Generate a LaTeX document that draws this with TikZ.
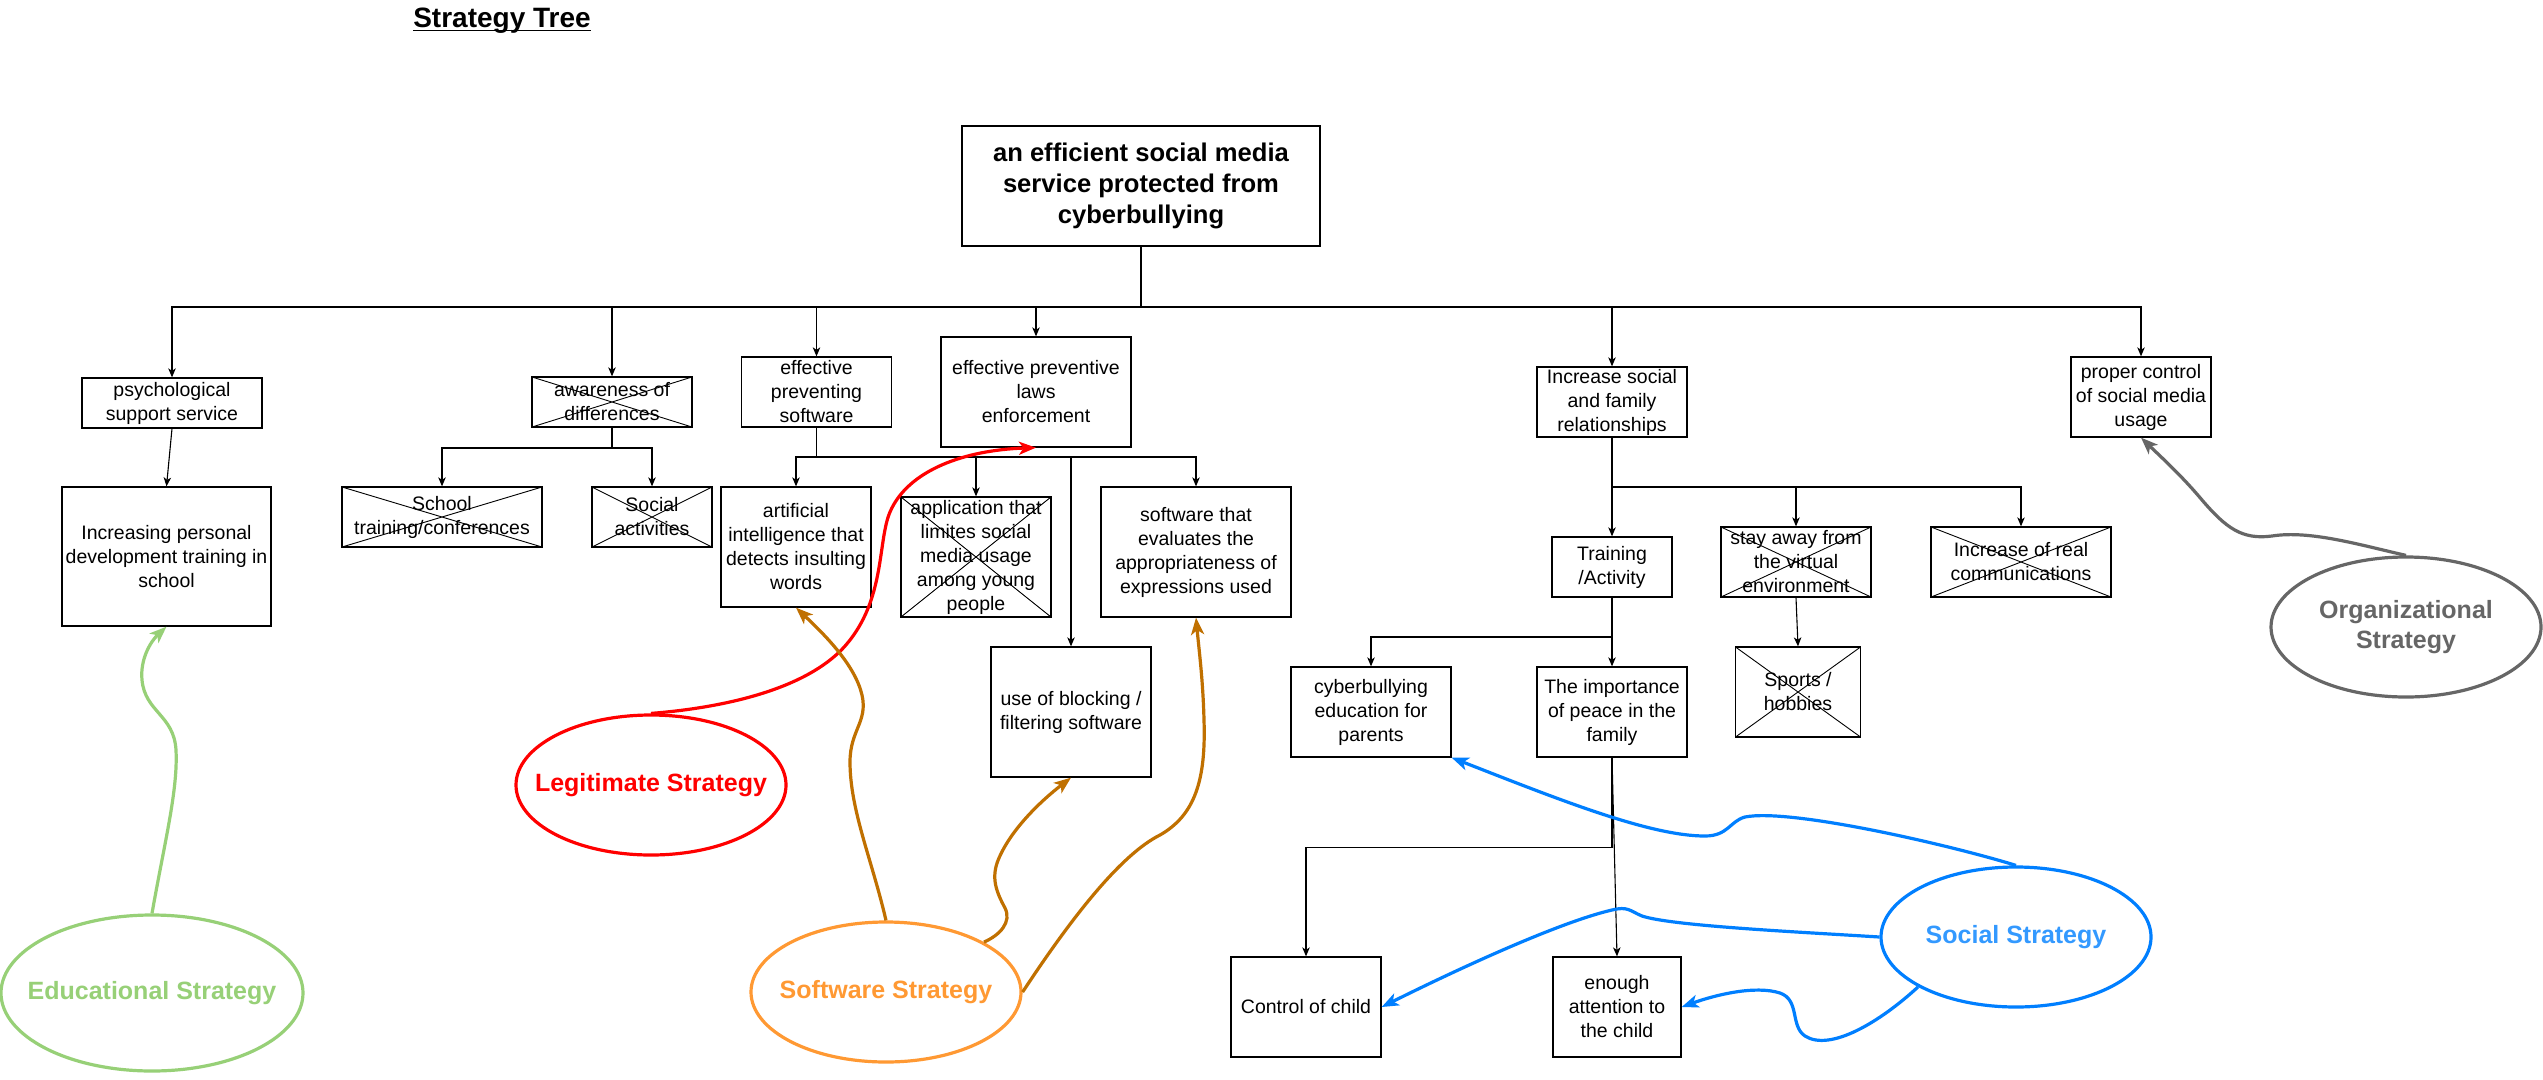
\documentclass[tikz,border=0pt]{standalone}
\usepackage{fontspec}
\setmainfont{Liberation Sans}
\usetikzlibrary{arrows.meta,shapes.geometric}
\definecolor{edug}{HTML}{97D077}
\definecolor{legr}{HTML}{FF0000}
\definecolor{softo}{HTML}{FF9933}
\definecolor{softa}{HTML}{C07000}
\definecolor{socb}{HTML}{007FFF}
\definecolor{soct}{HTML}{3399FF}
\definecolor{orgg}{HTML}{666666}
\begin{document}
\begin{tikzpicture}[x=1pt,y=-1pt,
  box/.style={draw, line width=1.3pt, align=center, inner sep=0pt, font=\fontsize{19.5}{24}\selectfont},
  sz/.style 2 args={minimum width=#1pt, minimum height=#2pt},
  xbox/.style={box, path picture={\draw[line width=0.9pt] (path picture bounding box.north west) -- (path picture bounding box.south east) (path picture bounding box.north east) -- (path picture bounding box.south west);}},
  tline/.style={line width=1.1pt},
  tarr/.style={tline, -{Stealth[length=9pt,width=7.5pt,inset=2.5pt]}},
  strat/.style={ellipse, line width=3.2pt, inner sep=0pt, minimum width=270pt, minimum height=140pt},
  stext/.style={font=\bfseries\fontsize{25}{30.7}\selectfont, align=center, inner sep=0pt},
  sarr/.style={line width=3.2pt, -{Stealth[length=17pt,width=13pt,inset=4.5pt]}}
]
\path[use as bounding box, fill=white] (0,0) rectangle (2543,1079);

% title
\node[font=\bfseries\fontsize{28}{34}\selectfont, anchor=base, inner sep=0pt] (title) at (502,27) {Strategy Tree};
\draw[line width=1.8pt] ([yshift=-3.5pt]title.base west) -- ([yshift=-3.5pt]title.base east);

% boxes
\node[box, sz={358}{120}, font=\bfseries\fontsize{25.6}{30.7}\selectfont] (root) at (1141,186) {an efficient social media\\service protected from\\cyberbullying};
\node[box, sz={180}{50}] (psych) at (172,403) {psychological\\support service};
\node[box, sz={209}{139}] (incp) at (166.5,556.5) {Increasing personal\\development training in\\school};
\node[xbox, sz={160}{50}] (aware) at (612,402) {awareness of\\differences};
\node[xbox, sz={200}{60}] (school) at (442,517) {School\\training/conferences};
\node[xbox, sz={120}{60}] (socact) at (652,517) {Social\\activities};
\node[box, sz={150}{70}] (eps) at (816.5,392) {effective\\preventing\\software};
\node[box, sz={190}{110}] (laws) at (1036,392) {effective preventive\\laws\\enforcement};
\node[box, sz={150}{120}] (ai) at (796,547) {artificial\\intelligence that\\detects insulting\\words};
\node[xbox, sz={150}{120}] (app) at (976,557) {application that\\limites social\\media usage\\among young\\people};
\node[box, sz={190}{130}] (evalu) at (1196,552) {software that\\evaluates the\\appropriateness of\\expressions used};
\node[box, sz={160}{130}] (block) at (1071,712) {use of blocking /\\filtering software};
\node[box, sz={150}{70}] (incsoc) at (1612,402) {Increase social\\and family\\relationships};
\node[box, sz={140}{80}] (proper) at (2141,397) {proper control\\of social media\\usage};
\node[box, sz={120}{60}] (train) at (1612,567) {Training\\/Activity};
\node[xbox, sz={150}{70}] (stay) at (1796,562) {stay away from\\the virtual\\environment};
\node[xbox, sz={180}{70}] (increal) at (2021,562) {Increase of real\\communications};
\node[xbox, sz={125}{90}] (sports) at (1798,692) {Sports /\\hobbies};
\node[box, sz={160}{90}] (cyber) at (1371,712) {cyberbullying\\education for\\parents};
\node[box, sz={150}{90}] (import) at (1612,712) {The importance\\of peace in the\\family};
\node[box, sz={150}{100}] (control) at (1306,1007) {Control of child};
\node[box, sz={128}{100}] (enough) at (1617,1007) {enough\\attention to\\the child};

% strategy ellipses
\node[strat, draw=edug, minimum width=302pt, minimum height=156pt] (edu) at (152,993) {};
\node[stext, text=edug] (edut) at (edu.center) {Educational Strategy};
\node[strat, draw=legr] (legit) at (651,785) {};
\node[stext, text=legr] (legitt) at (legit.center) {Legitimate Strategy};
\node[strat, draw=softo] (soft) at (886,992) {};
\node[stext, text=softo] (softt) at (soft.center) {Software Strategy};
\node[strat, draw=socb] (social) at (2016,937) {};
\node[stext, text=soct] (socialt) at (social.center) {Social Strategy};
\node[strat, draw=orgg] (org) at (2406,627) {};
\node[stext, text=orgg] (orgt) at (org.center) {Organizational\\Strategy};

% tree connectors
\coordinate (b0) at (1141,307);
\draw[tline] (root.south) -- (b0);
\foreach \n in {psych,aware,eps,laws,incsoc,proper} \draw[tarr] (b0) -| (\n.north);
\coordinate (b1) at (612,448);
\draw[tline] (aware.south) -- (b1);
\foreach \n in {school,socact} \draw[tarr] (b1) -| (\n.north);
\coordinate (b2) at (816.5,457);
\draw[tline] (eps.south) -- (b2);
\foreach \n in {ai,app,block,evalu} \draw[tarr] (b2) -| (\n.north);
\coordinate (b3) at (1612,487);
\draw[tline] (incsoc.south) -- (b3);
\foreach \n in {train,stay,increal} \draw[tarr] (b3) -| (\n.north);
\coordinate (b4) at (1612,637);
\draw[tline] (train.south) -- (b4);
\foreach \n in {cyber,import} \draw[tarr] (b4) -| (\n.north);
\draw[tarr] (import.south) -- ++(0,90) -| (control.north);
\draw[tarr] (import.south) -- (enough.north);
\draw[tarr] (psych.south) -- (incp.north);
\draw[tarr] (stay.south) -- (sports.north);

% strategy arrows
\draw[sarr, edug] (edu.north) .. controls (165,840) and (178,790) .. (176,750) .. controls (174,715) and (145,712) .. (142,680) .. controls (140,660) and (150,642) .. (incp.south);
\draw[sarr, legr] (legit.north) .. controls (720,708) and (812,690) .. (850,640) .. controls (885,595) and (878,540) .. (890,512) .. controls (908,470) and (965,450) .. (laws.south);
\draw[sarr, softa] (soft.north) .. controls (872,860) and (850,810) .. (850,762) .. controls (850,730) and (868,722) .. (862,695) .. controls (855,665) and (825,635) .. (ai.south);
\draw[sarr, softa] (soft.27) .. controls (1000,935) and (1012,922) .. (1005,908) .. controls (997,893) and (990,878) .. (999,858) .. controls (1012,828) and (1042,800) .. (block.south);
\draw[sarr, softa] (soft.east) .. controls (1070,920) and (1120,855) .. (1160,835) .. controls (1195,815) and (1206,780) .. (1204,720) .. controls (1203,680) and (1199,650) .. (evalu.south);
\draw[sarr, socb] (social.north) .. controls (1950,845) and (1790,808) .. (1745,817) .. controls (1730,821) and (1728,836) .. (1705,836) .. controls (1650,836) and (1560,800) .. (cyber.south east);
\draw[sarr, socb] (social.west) .. controls (1800,932) and (1672,926) .. (1642,916) .. controls (1630,911) and (1628,906) .. (1612,910) .. controls (1560,922) and (1460,968) .. (control.east);
\draw[sarr, socb] (social.207) .. controls (1880,1022) and (1830,1052) .. (1805,1036) .. controls (1790,1026) and (1800,1000) .. (1780,993) .. controls (1755,985) and (1715,995) .. (enough.east);
\draw[sarr, orgg] (org.north) .. controls (2360,545) and (2310,530) .. (2272,536) .. controls (2242,540) and (2226,528) .. (2202,500) .. controls (2182,476) and (2160,456) .. (proper.south);
\end{tikzpicture}
\end{document}
